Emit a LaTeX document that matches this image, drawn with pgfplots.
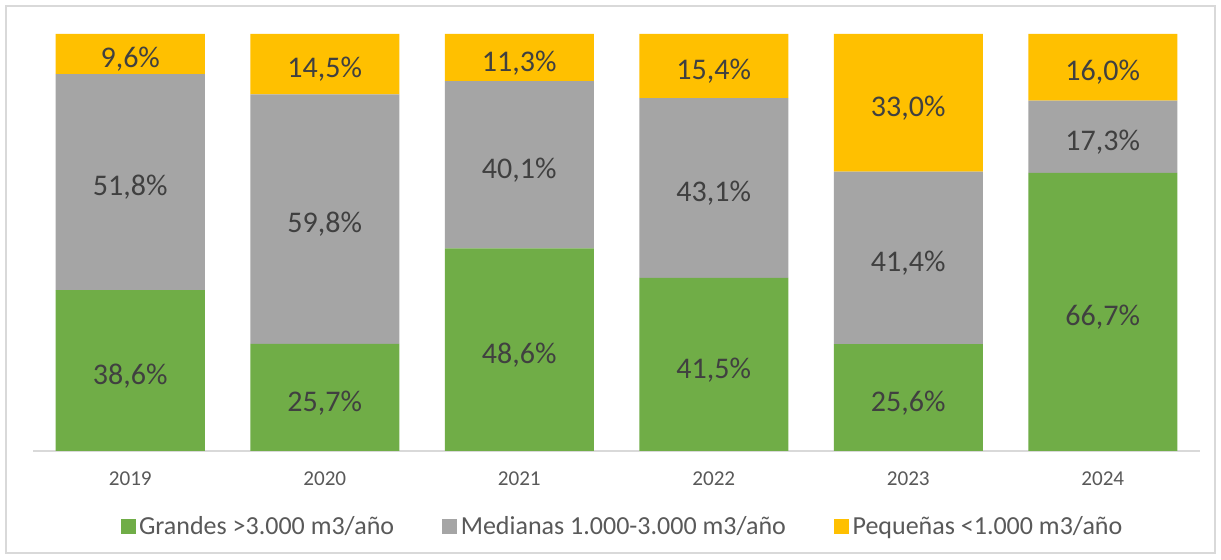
\documentclass[border=0pt]{standalone}
\usepackage{pgfplots}
\pgfplotsset{compat=1.18}
\usepackage{fontspec}
\setmainfont{Carlito}
\definecolor{grandes}{RGB}{112,173,71}
\definecolor{medianas}{RGB}{165,165,165}
\definecolor{pequenas}{RGB}{255,192,0}
\definecolor{labeltxt}{RGB}{64,64,64}
\definecolor{ticktxt}{RGB}{89,89,89}
\definecolor{framegray}{RGB}{217,217,217}
\begin{document}
\begin{tikzpicture}[x=1pt,y=1pt]
\useasboundingbox (-19.8,-65.4) rectangle (712.8,270.6);
\fill[white] (-19.8,-65.4) rectangle (712.8,270.6);
\draw[framegray, line width=1.2pt] (-16.2,-61.2) rectangle (709.2,267);
\begin{axis}[
  at={(0,0)}, anchor=south west,
  scale only axis,
  width=700.2pt, height=250.2pt,
  ybar stacked,
  bar width=89.4pt,
  xmin=-0.5, xmax=5.5,
  ymin=0, ymax=100,
  axis x line=bottom,
  axis y line=none,
  x axis line style={draw=framegray, line width=1.2pt, -},
  xtick={0,1,2,3,4,5},
  xticklabels={2019,2020,2021,2022,2023,2024},
  major tick length=0pt,
  xticklabel style={font=\fontsize{12.7}{15}\selectfont, text=ticktxt, yshift=-9pt},
  point meta=explicit symbolic,
  nodes near coords,
  every node near coord/.append style={
    font=\fontsize{18}{21}\selectfont, text=labeltxt, anchor=center, yshift=-3.2pt},
  legend columns=3,
  legend style={draw=none, at={(rel axis cs:0.5,0)}, anchor=center,
    yshift=-45.6pt, xshift=4pt,
    font=\fontsize{15.6}{18}\selectfont, text=ticktxt,
    /tikz/every even column/.append style={column sep=27pt}},
  legend image code/.code={\fill[#1] (0pt,-4.5pt) rectangle (9pt,4.5pt);},
]
\addplot[fill=grandes, draw=none] coordinates {
  (0,38.6) [38,6\%] (1,25.7) [25,7\%] (2,48.6) [48,6\%]
  (3,41.5) [41,5\%] (4,25.6) [25,6\%] (5,66.7) [66,7\%]
};
\addlegendentry{Grandes >3.000 m3/año}
\addplot[fill=medianas, draw=none] coordinates {
  (0,51.8) [51,8\%] (1,59.8) [59,8\%] (2,40.1) [40,1\%]
  (3,43.1) [43,1\%] (4,41.4) [41,4\%] (5,17.3) [17,3\%]
};
\addlegendentry{Medianas 1.000-3.000 m3/año}
\addplot[fill=pequenas, draw=none] coordinates {
  (0,9.6) [9,6\%] (1,14.5) [14,5\%] (2,11.3) [11,3\%]
  (3,15.4) [15,4\%] (4,33.0) [33,0\%] (5,16.0) [16,0\%]
};
\addlegendentry{Pequeñas <1.000 m3/año}
\end{axis}
\end{tikzpicture}
\end{document}
